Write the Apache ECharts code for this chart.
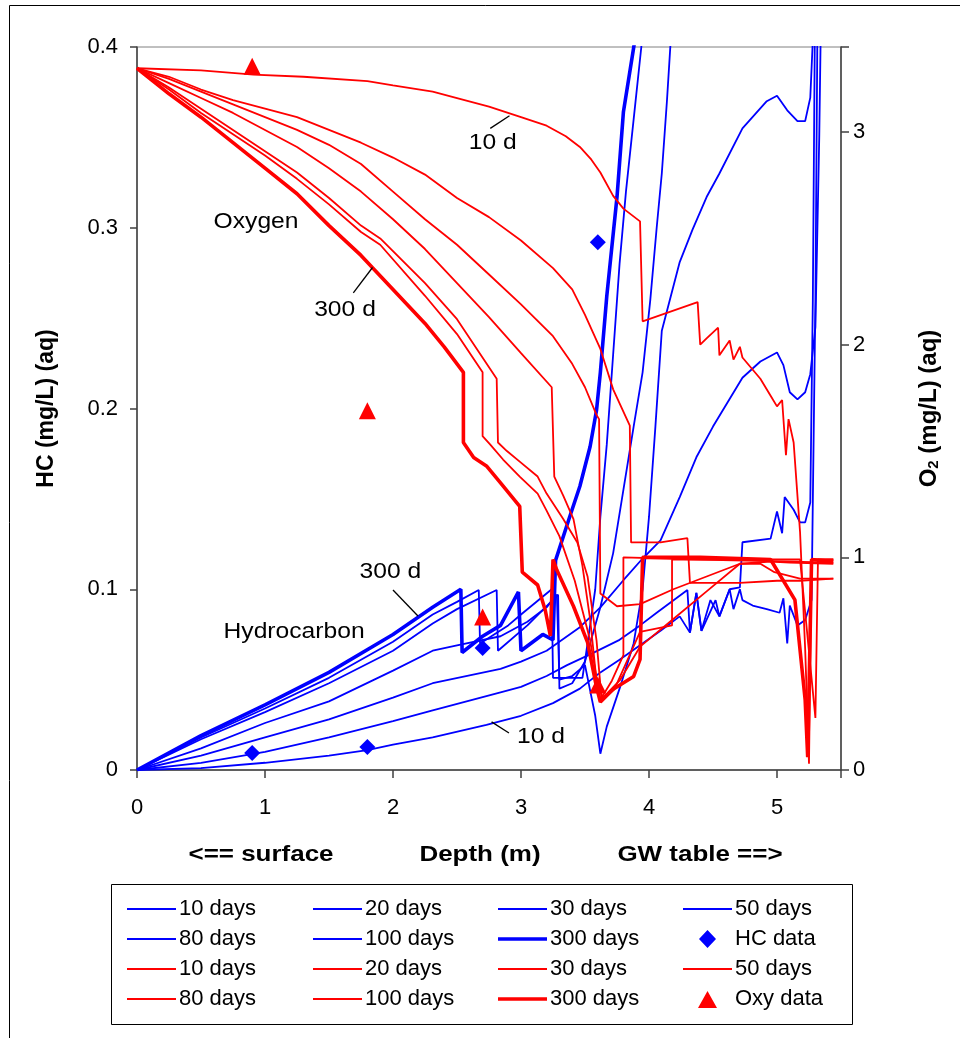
<!DOCTYPE html>
<html><head><meta charset="utf-8">
<script src="https://cdn.jsdelivr.net/npm/echarts/dist/echarts.min.js"></script>
<style>html,body{margin:0;padding:0;background:#fff}#c{width:960px;height:1038px}</style>
</head><body><div id="c"></div>
<script>
// ---- Data: depth (m) vs HC (mg/L) on left axis, O2 (mg/L) on right axis ----
const hc10 = [[0,0],[0.5,0.001],[1.0,0.004],[1.5,0.008],[1.8,0.011],[2.0,0.014],[2.31,0.018],[2.73,0.025],[3.0,0.030],[3.25,0.037],[3.46,0.045],[3.62,0.054],[3.77,0.061],[3.93,0.069],[4.09,0.077],[4.24,0.085],[4.32,0.076],[4.37,0.098],[4.41,0.077],[4.48,0.094],[4.55,0.085],[4.63,0.100],[4.66,0.089],[4.71,0.100],[4.73,0.094],[4.81,0.091],[4.92,0.089],[5.02,0.087],[5.05,0.095],[5.08,0.070],[5.10,0.091],[5.16,0.080],[5.22,0.083],[5.27,0.094],[5.30,0.26],[5.32,0.45]];
const hc20 = [[0,0],[0.5,0.004],[1.0,0.010],[1.5,0.018],[2.0,0.027],[2.31,0.033],[2.84,0.043],[3.0,0.046],[3.2,0.052],[3.36,0.058],[3.54,0.064],[3.77,0.072],[3.93,0.080],[4.06,0.087],[4.30,0.0996],[4.32,0.076],[4.37,0.098],[4.41,0.077],[4.52,0.094],[4.55,0.085],[4.63,0.100],[4.71,0.101],[4.73,0.126],[4.95,0.128],[5.0,0.143],[5.04,0.131],[5.06,0.151],[5.13,0.144],[5.18,0.137],[5.22,0.137],[5.26,0.148],[5.28,0.26],[5.30,0.45]];
const hc30 = [[0,0],[0.5,0.008],[1.0,0.018],[1.5,0.028],[2.0,0.040],[2.31,0.048],[2.84,0.056],[3.0,0.060],[3.2,0.066],[3.46,0.079],[3.62,0.090],[3.80,0.105],[3.95,0.117],[4.09,0.127],[4.24,0.151],[4.37,0.173],[4.50,0.190],[4.73,0.217],[4.87,0.226],[5.0,0.231],[5.05,0.224],[5.10,0.209],[5.16,0.205],[5.22,0.209],[5.26,0.219],[5.30,0.245],[5.33,0.35],[5.35,0.45]];
const hc50 = [[0,0],[0.5,0.012],[1.0,0.026],[1.5,0.038],[2.0,0.055],[2.31,0.066],[2.5,0.069],[2.84,0.074],[3.05,0.082],[3.20,0.090],[3.28,0.097],[3.30,0.050],[3.40,0.052],[3.50,0.058],[3.58,0.030],[3.62,0.009],[3.67,0.024],[3.77,0.045],[3.88,0.070],[3.95,0.10],[4.0,0.14],[4.05,0.19],[4.10,0.243],[4.24,0.281],[4.34,0.299],[4.45,0.317],[4.55,0.330],[4.73,0.355],[4.92,0.370],[5.0,0.373],[5.08,0.365],[5.16,0.359],[5.22,0.359],[5.26,0.372],[5.28,0.404],[5.30,0.45]];
const hc80 = [[0,0],[0.5,0.017],[1.0,0.032],[1.5,0.048],[2.0,0.066],[2.31,0.081],[2.5,0.089],[2.81,0.0996],[2.82,0.066],[3.05,0.080],[3.29,0.097],[3.30,0.045],[3.40,0.048],[3.50,0.060],[3.62,0.090],[3.72,0.12],[3.80,0.155],[3.88,0.19],[3.95,0.22],[4.01,0.26],[4.06,0.30],[4.10,0.33],[4.14,0.37],[4.17,0.404],[4.19,0.45]];
const hc100 = [[0,0],[0.5,0.018],[1.0,0.034],[1.5,0.051],[2.0,0.071],[2.31,0.086],[2.5,0.093],[2.67,0.0996],[2.68,0.070],[2.90,0.080],[3.0,0.086],[3.24,0.100],[3.25,0.051],[3.48,0.051],[3.52,0.07],[3.58,0.10],[3.62,0.14],[3.67,0.18],[3.72,0.23],[3.77,0.28],[3.82,0.32],[3.88,0.36],[3.94,0.40],[3.97,0.45]];
const hc300 = [[0,0],[0.5,0.019],[1.0,0.036],[1.5,0.054],[2.0,0.075],[2.31,0.090],[2.53,0.100],[2.54,0.065],[2.70,0.074],[2.84,0.080],[2.98,0.0985],[3.0,0.066],[3.17,0.075],[3.25,0.072],[3.27,0.116],[3.38,0.140],[3.46,0.157],[3.54,0.179],[3.59,0.199],[3.62,0.22],[3.67,0.262],[3.75,0.317],[3.80,0.364],[3.89,0.404],[3.93,0.45]];

const o2_10 = [[0,3.30],[0.5,3.29],[0.91,3.27],[1.3,3.26],[1.8,3.24],[2.0,3.22],[2.31,3.19],[2.5,3.16],[2.75,3.12],[3.0,3.07],[3.2,3.03],[3.35,2.98],[3.46,2.93],[3.55,2.87],[3.62,2.81],[3.72,2.70],[3.80,2.64],[3.93,2.58],[3.95,2.11],[4.38,2.20],[4.40,2.00],[4.45,2.03],[4.54,2.08],[4.55,1.95],[4.63,2.02],[4.66,1.93],[4.71,1.99],[4.73,1.94],[4.87,1.84],[4.95,1.76],[5.0,1.71],[5.04,1.74],[5.07,1.48],[5.09,1.65],[5.13,1.54],[5.18,1.12],[5.22,0.57],[5.25,0.03],[5.27,0.99],[5.44,0.99]];
const o2_20 = [[0,3.30],[0.25,3.26],[0.5,3.20],[0.75,3.15],[1.0,3.11],[1.25,3.07],[1.5,3.01],[1.75,2.95],[2.0,2.88],[2.25,2.80],[2.5,2.69],[2.75,2.60],[3.0,2.49],[3.25,2.36],[3.4,2.26],[3.5,2.14],[3.62,1.98],[3.72,1.79],[3.85,1.62],[3.86,1.07],[4.09,1.07],[4.30,1.09],[4.32,0.88],[4.71,0.88],[5.0,0.89],[5.18,0.89],[5.44,0.90]];
const o2_30 = [[0,3.30],[0.25,3.25],[0.5,3.19],[0.75,3.13],[1.0,3.07],[1.25,3.01],[1.5,2.94],[1.75,2.85],[2.0,2.72],[2.25,2.59],[2.5,2.47],[2.75,2.33],[3.0,2.19],[3.25,2.04],[3.4,1.91],[3.5,1.80],[3.59,1.67],[3.61,1.65],[3.62,0.83],[3.75,0.77],[3.93,0.78],[4.19,0.85],[4.45,0.91],[4.71,0.97],[4.95,0.98],[5.10,0.975],[5.44,0.97]];
const o2_50 = [[0,3.30],[0.25,3.23],[0.5,3.16],[0.75,3.09],[1.0,3.01],[1.25,2.93],[1.5,2.83],[1.75,2.72],[2.0,2.59],[2.25,2.45],[2.5,2.29],[2.75,2.13],[3.0,1.96],[3.24,1.80],[3.26,1.38],[3.33,1.29],[3.41,1.18],[3.48,0.96],[3.54,0.71],[3.59,0.42],[3.64,0.34],[3.77,0.42],[3.93,0.58],[4.19,0.71],[4.45,0.84],[4.71,0.97],[4.87,0.97],[4.98,0.93],[5.18,0.90],[5.44,0.90]];
const o2_80 = [[0,3.30],[0.25,3.21],[0.5,3.11],[0.75,3.01],[1.0,2.91],[1.25,2.81],[1.5,2.69],[1.75,2.56],[1.9,2.50],[2.25,2.29],[2.5,2.12],[2.81,1.84],[2.82,1.54],[2.89,1.50],[2.99,1.45],[3.13,1.38],[3.20,1.30],[3.33,1.18],[3.44,1.07],[3.52,0.91],[3.59,0.61],[3.63,0.33],[3.73,0.38],[3.93,0.65],[4.18,0.68],[4.18,0.99],[4.40,0.99],[5.44,0.975]];
const o2_100 = [[0,3.30],[0.25,3.20],[0.5,3.09],[0.75,2.99],[1.0,2.89],[1.25,2.78],[1.5,2.66],[1.75,2.53],[1.9,2.47],[2.25,2.23],[2.5,2.05],[2.70,1.87],[2.70,1.57],[2.76,1.53],[2.86,1.46],[2.99,1.38],[3.13,1.30],[3.20,1.22],[3.30,1.10],[3.42,0.89],[3.54,0.61],[3.62,0.33],[3.71,0.42],[3.80,0.54],[3.80,1.00],[4.40,0.99],[5.18,0.99],[5.30,0.245],[5.32,0.99],[5.44,0.99]];
const o2_300 = [[0,3.30],[0.25,3.18],[0.5,3.07],[0.75,2.95],[1.0,2.83],[1.25,2.71],[1.5,2.56],[1.75,2.42],[2.0,2.26],[2.25,2.10],[2.4,1.99],[2.55,1.87],[2.55,1.54],[2.63,1.47],[2.73,1.43],[2.84,1.35],[2.99,1.24],[3.01,0.93],[3.13,0.87],[3.19,0.75],[3.23,0.63],[3.25,0.99],[3.28,0.94],[3.41,0.77],[3.52,0.60],[3.59,0.39],[3.62,0.32],[3.72,0.38],[3.88,0.44],[3.93,0.52],[3.95,1.00],[4.40,1.00],[4.95,0.99],[5.14,0.80],[5.22,0.33],[5.24,0.06],[5.27,0.99],[5.44,0.98]];

const hcData = [[0.9,0.0094],[1.8,0.0127],[2.7,0.0675],[3.6,0.292]];
const oxyData = [[0.9,3.31],[1.8,1.69],[2.7,0.72],[3.6,0.40]];

const seriesLabels = ['10 days','20 days','30 days','50 days','80 days','100 days','300 days'];
const hcSeries = [hc10, hc20, hc30, hc50, hc80, hc100, hc300];
const o2Series = [o2_10, o2_20, o2_30, o2_50, o2_80, o2_100, o2_300];
const depthTicks = [0,1,2,3,4,5];

// annotation texts (positioned in data units of depth / HC)
const notes = [
  {text:'10 d', at:[2.78,0.347], line:[[2.76,0.355],[2.91,0.362]]},
  {text:'Oxygen', at:[0.93,0.303]},
  {text:'300 d', at:[1.625,0.2546], line:[[1.69,0.264],[1.84,0.278]]},
  {text:'300 d', at:[1.98,0.1096], line:[[2.0,0.0996],[2.195,0.0852]]},
  {text:'Hydrocarbon', at:[1.227,0.0764]},
  {text:'10 d', at:[3.156,0.0183], line:[[2.77,0.0266],[2.906,0.0205]]}
];

const FONT = '"Liberation Sans", Arial, sans-serif';
const BLUE = '#0000FF', RED = '#FF0000';
const THIN = 1.8, THICK = 3.6;

const series = [];
hcSeries.forEach((d, i) => series.push({
  name: 'b|' + seriesLabels[i], type: 'line', data: d, xAxisIndex: 0, yAxisIndex: 0,
  symbol: 'none', showSymbol: false, animation: false, z: 2,
  lineStyle: {color: BLUE, width: i === 6 ? THICK : THIN}, itemStyle: {color: BLUE}
}));
o2Series.forEach((d, i) => series.push({
  name: 'r|' + seriesLabels[i], type: 'line', data: d, xAxisIndex: 0, yAxisIndex: 1,
  symbol: 'none', showSymbol: false, animation: false, z: 3,
  lineStyle: {color: RED, width: i === 6 ? THICK : THIN}, itemStyle: {color: RED}
}));
series.push({name: 'HC data', type: 'scatter', data: hcData, yAxisIndex: 0, symbol: 'diamond', symbolSize: 16, itemStyle: {color: BLUE, opacity: 1}, z: 5, animation: false});
series.push({name: 'Oxy data', type: 'scatter', data: oxyData, yAxisIndex: 1, symbol: 'triangle', symbolSize: 17, itemStyle: {color: RED, opacity: 1}, z: 5, animation: false});

// legend icons: a 49x18 box holding a line sample or a marker
const lineIcon = w => 'path://M0,0L0,0Z M0,' + (9 - w/2) + 'L49,' + (9 - w/2) + 'L49,' + (9 + w/2) + 'L0,' + (9 + w/2) + 'Z M49,18L49,18Z';
const diamondIcon = 'path://M0,0L0,0Z M24.5,0L33,9L24.5,18L16,9Z M49,18L49,18Z';
const triangleIcon = 'path://M0,0L0,0Z M24.5,1L34,18L15,18Z M49,18L49,18Z';
const legItem = n => {
  if (n === 'HC data') return {name: n, icon: diamondIcon};
  if (n === 'Oxy data') return {name: n, icon: triangleIcon};
  return {name: n, icon: lineIcon(n.indexOf('300') >= 0 ? THICK : THIN)};
};
const legendCols = [
  ['b|10 days','b|80 days','r|10 days','r|80 days'],
  ['b|20 days','b|100 days','r|20 days','r|100 days'],
  ['b|30 days','b|300 days','r|30 days','r|300 days'],
  ['b|50 days','HC data','r|50 days','Oxy data']
];
const colLeft = [127, 313, 498, 683];
const legends = legendCols.map((names, i) => ({
  orient: 'vertical', left: colLeft[i], top: 898, padding: 0, itemGap: 8,
  itemWidth: 49, itemHeight: 18, data: names.map(legItem), selectedMode: false,
  formatter: n => n.indexOf('|') >= 0 ? n.split('|')[1] : n,
  textStyle: {fontFamily: FONT, fontSize: 22, color: '#000', lineHeight: 22, padding: [0,0,0,-2]}
}));

const intLabel = v => (Math.abs(v - Math.round(v)) < 1e-9) ? String(Math.round(v)) : '';
const axisDark = {color: '#404040', width: 1.5};

const chart = echarts.init(document.getElementById('c'), null, {renderer: 'canvas'});
chart.setOption({
  backgroundColor: '#fff',
  animation: false,
  grid: {left: 137, right: 119, top: 47, bottom: 268, show: true, borderColor: '#808080', borderWidth: 1, containLabel: false},
  xAxis: {type: 'value', min: 0, max: 5.5, interval: 1,
    axisLine: {show: true, onZero: false, lineStyle: axisDark},
    axisTick: {show: true, length: 8, lineStyle: axisDark},
    axisLabel: {formatter: v => depthTicks.indexOf(Math.round(v*1000)/1000) >= 0 ? intLabel(v) : '', margin: 27, fontSize: 22, color: '#000', fontFamily: FONT},
    splitLine: {show: false}},
  yAxis: [
    {type: 'value', min: 0, max: 0.4, interval: 0.1, position: 'left',
      name: 'HC (mg/L) (aq)', nameLocation: 'middle', nameGap: 79, nameRotate: 90,
      nameTextStyle: {fontFamily: FONT, fontWeight: 'bold', fontSize: 23, color: '#000'},
      axisLine: {show: true, onZero: false, lineStyle: axisDark},
      axisTick: {show: true, length: 7, lineStyle: axisDark},
      axisLabel: {margin: 19, fontSize: 22, color: '#000', fontFamily: FONT},
      splitLine: {show: false}},
    {type: 'value', min: 0, max: 3.4, interval: 1, position: 'right',
      name: '{a|O}{s|2}{a| (mg/L) (aq)}', nameLocation: 'middle', nameGap: 76, nameRotate: 90,
      nameTextStyle: {rich: {
        a: {fontFamily: FONT, fontWeight: 'bold', fontSize: 24, color: '#000'},
        s: {fontFamily: FONT, fontWeight: 'bold', fontSize: 15, color: '#000', verticalAlign: 'bottom', padding: [9,0,0,0]}}},
      axisLine: {show: true, onZero: false, lineStyle: axisDark},
      axisTick: {show: true, length: 8, lineStyle: axisDark},
      axisLabel: {formatter: intLabel, margin: 12, fontSize: 22, color: '#000', fontFamily: FONT},
      splitLine: {show: false}}
  ],
  legend: legends,
  series: series
});

// decorations: frames, x-axis captions, annotations
const caption = (x, text) => ({type: 'text', x: x, y: 855, scaleX: 1.18,
  style: {text: text, font: 'bold 22px ' + FONT, fill: '#000', align: 'center', verticalAlign: 'middle'}});
const g = [
  {type: 'rect', shape: {x: 9.5, y: 5.5, width: 1000, height: 1100}, style: {fill: null, stroke: '#000', lineWidth: 1}, silent: true, z: 0},
  {type: 'rect', shape: {x: 111.5, y: 884.5, width: 741, height: 140}, style: {fill: null, stroke: '#000', lineWidth: 1}, silent: true},
  caption(261, '<== surface'), caption(480, 'Depth (m)'), caption(700, 'GW table ==>')
];
const toPx = p => chart.convertToPixel({xAxisIndex: 0, yAxisIndex: 0}, p);
notes.forEach(n => {
  const p = toPx(n.at);
  g.push({type: 'text', x: p[0], y: p[1], z: 10, scaleX: 1.12, style: {text: n.text, font: '22px ' + FONT, fill: '#000', align: 'center', verticalAlign: 'middle'}});
  if (n.line) {
    const a = toPx(n.line[0]), b = toPx(n.line[1]);
    g.push({type: 'line', z: 10, shape: {x1: a[0], y1: a[1], x2: b[0], y2: b[1]}, style: {stroke: '#000', lineWidth: 1.3}});
  }
});
chart.setOption({graphic: g});
</script></body></html>
